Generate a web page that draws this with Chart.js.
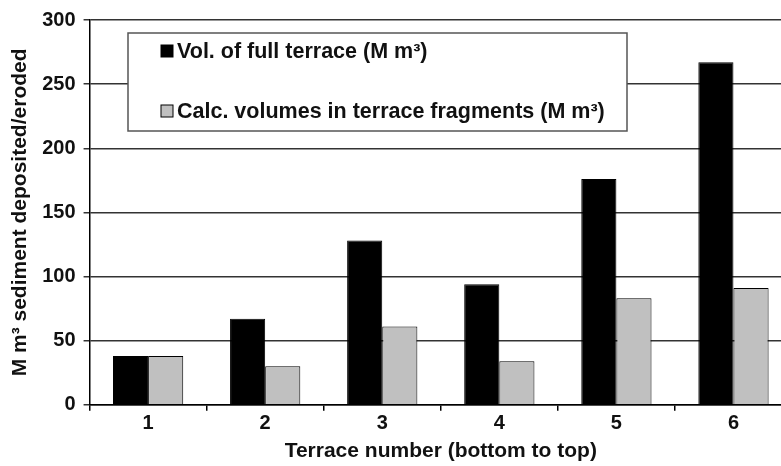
<!DOCTYPE html>
<html>
<head>
<meta charset="utf-8">
<script src="https://cdn.jsdelivr.net/npm/chart.js@4.4.1/dist/chart.umd.min.js"></script>
<style>
  html, body { margin: 0; padding: 0; background: #fff; overflow: hidden; }
  #wrap { width: 800px; height: 466px; }
</style>
</head>
<body>
<div id="wrap"><canvas id="c"></canvas></div>
<script>
const terraces = ['1', '2', '3', '4', '5', '6'];
const fullVolume = [38, 67, 128, 94, 176, 267];
const fragmentVolume = [38, 30, 61, 34, 83, 91];
const yTicks = [0, 50, 100, 150, 200, 250, 300];

const seriesNames = ['Vol. of full terrace (M m³)', 'Calc. volumes in terrace fragments (M m³)'];
const seriesColors = ['#000000', '#c0c0c0'];

const FONT = '"Liberation Sans", Arial, sans-serif';

// legend box sits inside the plot, drawn by hand
const boxLegend = {
  id: 'boxLegend',
  afterDraw(chart) {
    const ctx = chart.ctx;
    ctx.save();
    ctx.fillStyle = '#fff';
    ctx.strokeStyle = '#555';
    ctx.lineWidth = 1.5;
    ctx.fillRect(128, 33, 499, 98);
    ctx.strokeRect(128, 33, 499, 98);
    ctx.font = 'bold 21.5px ' + FONT;
    ctx.textBaseline = 'middle';
    const rows = [51, 111];
    seriesNames.forEach((name, i) => {
      ctx.fillStyle = seriesColors[i];
      ctx.strokeStyle = '#000';
      ctx.lineWidth = 1;
      ctx.fillRect(161, rows[i] - 6, 12, 12);
      ctx.strokeRect(161, rows[i] - 6, 12, 12);
      ctx.fillStyle = '#111';
      ctx.fillText(name, 177, rows[i] + 1);
    });
    ctx.restore();
  }
};

new Chart(document.getElementById('c'), {
  type: 'bar',
  data: {
    labels: terraces,
    datasets: [
      { label: seriesNames[0], data: fullVolume, backgroundColor: seriesColors[0], borderColor: '#000', borderWidth: 1 },
      { label: seriesNames[1], data: fragmentVolume, backgroundColor: seriesColors[1], borderColor: '#000', borderWidth: 1 }
    ]
  },
  options: {
    responsive: true,
    maintainAspectRatio: false,
    animation: false,
    layout: { padding: { top: 2, right: 8, bottom: 2, left: 6 } },
    datasets: { bar: { categoryPercentage: 0.6, barPercentage: 1.0 } },
    plugins: { legend: { display: false }, tooltip: { enabled: false } },
    scales: {
      x: {
        grid: { display: true, offset: true, drawOnChartArea: false, drawTicks: true, tickLength: 6, color: '#000', lineWidth: 1.5 },
        border: { display: true, color: '#000', width: 1.5 },
        ticks: { color: '#111', font: { family: FONT, size: 20, weight: 'bold' }, padding: 1 },
        title: { display: true, text: 'Terrace number (bottom to top)', color: '#111', font: { family: FONT, size: 21, weight: 'bold' }, padding: { top: 2, bottom: 0 } }
      },
      y: {
        min: 0,
        max: 300,
        afterBuildTicks: axis => { axis.ticks = yTicks.map(v => ({ value: v })); },
        grid: { color: '#333', lineWidth: 1.5, tickLength: 6 },
        border: { display: true, color: '#000', width: 1.5 },
        ticks: { color: '#111', font: { family: FONT, size: 20, weight: 'bold' }, padding: 8 },
        title: { display: true, text: 'M m³ sediment deposited/eroded', color: '#111', font: { family: FONT, size: 21, weight: 'bold' }, padding: { top: 2, bottom: 1 } }
      }
    }
  },
  plugins: [boxLegend]
});
</script>
</body>
</html>
